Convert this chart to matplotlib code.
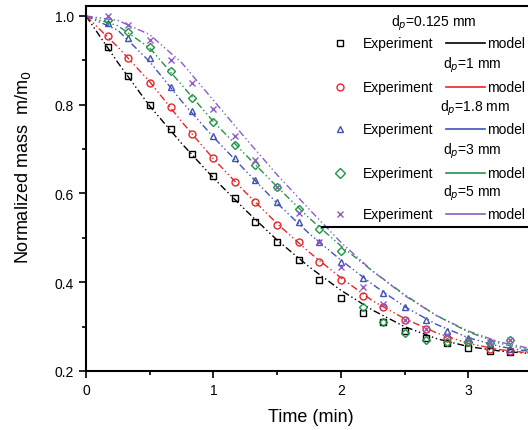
import matplotlib as mpl
mpl.use('Agg')
import matplotlib.pyplot as plt
from matplotlib.ticker import MultipleLocator

plt.rcParams['font.family'] = ['Liberation Sans', 'DejaVu Sans']

# model curves (min, m/m0)
t_model = [0, 0.25, 0.5, 0.75, 1.0, 1.25, 1.5, 1.75, 2.0, 2.25, 2.5, 2.75, 3.0, 3.25, 3.5]
model_0125 = [1.0, 0.895, 0.797, 0.713, 0.635, 0.563, 0.495, 0.435, 0.382, 0.337, 0.300, 0.273, 0.255, 0.245, 0.239]
model_1 = [1.0, 0.930, 0.852, 0.762, 0.678, 0.603, 0.532, 0.468, 0.410, 0.358, 0.318, 0.286, 0.262, 0.248, 0.240]
model_18 = [1.0, 0.968, 0.897, 0.808, 0.727, 0.652, 0.578, 0.510, 0.450, 0.395, 0.345, 0.305, 0.275, 0.255, 0.243]
model_3 = [1.0, 0.978, 0.928, 0.845, 0.762, 0.688, 0.615, 0.545, 0.482, 0.425, 0.372, 0.325, 0.288, 0.262, 0.246]
model_5 = [1.0, 0.990, 0.958, 0.895, 0.810, 0.725, 0.642, 0.565, 0.490, 0.425, 0.370, 0.325, 0.290, 0.265, 0.250]

# experiment points
t_exp = [0.17, 0.33, 0.5, 0.67, 0.83, 1.0, 1.17, 1.33, 1.5, 1.67,
         1.83, 2.0, 2.17, 2.33, 2.5, 2.67, 2.83, 3.0, 3.17, 3.33]
exp_0125 = [0.93, 0.865, 0.80, 0.745, 0.69, 0.64, 0.59, 0.535, 0.49, 0.45,
            0.405, 0.365, 0.33, 0.31, 0.29, 0.275, 0.262, 0.252, 0.245, 0.242]
exp_1 = [0.955, 0.905, 0.85, 0.795, 0.735, 0.68, 0.625, 0.58, 0.53, 0.49,
         0.445, 0.405, 0.37, 0.345, 0.315, 0.295, 0.275, 0.265, 0.25, 0.245]
exp_18 = [0.985, 0.95, 0.905, 0.84, 0.785, 0.73, 0.68, 0.63, 0.58, 0.535,
          0.49, 0.445, 0.41, 0.375, 0.345, 0.315, 0.29, 0.275, 0.26, 0.25]
exp_3 = [0.99, 0.965, 0.93, 0.875, 0.815, 0.76, 0.71, 0.665, 0.615, 0.565,
         0.52, 0.47, 0.345, 0.31, 0.285, 0.27, 0.265, 0.265, 0.262, 0.27]
exp_5 = [1.0, 0.98, 0.945, 0.90, 0.85, 0.79, 0.73, 0.675, 0.615, 0.555,
         0.49, 0.435, 0.39, 0.35, 0.315, 0.295, 0.28, 0.27, 0.265, 0.27]

labels = ['d$_p$=0.125 mm', 'd$_p$=1 mm', 'd$_p$=1.8 mm', 'd$_p$=3 mm', 'd$_p$=5 mm']
colors = ['black', '#e8252a', '#4152b8', '#239447', '#8d5cc6']
markers = ['s', 'o', '^', 'D', 'x']
models = [model_0125, model_1, model_18, model_3, model_5]
exps = [exp_0125, exp_1, exp_18, exp_3, exp_5]

dashdotdot = (0, (5, 2, 1, 2, 1, 2))

fig = plt.figure(figsize=(5.28, 4.31), dpi=100)
ax = fig.add_axes([86 / 528, 59 / 431, 446 / 528, 365 / 431])

for m, e, c, mk in zip(models, exps, colors, markers):
    ax.plot(t_model, m, color=c, lw=1.0, ls=dashdotdot)
    if mk == 'x':
        ax.plot(t_exp, e, ls='none', marker=mk, ms=5, mec=c, mew=1.0)
    else:
        ax.plot(t_exp, e, ls='none', marker=mk, ms=5 if mk != 'D' else 4,
                mfc='none', mec=c, mew=1.0)

ax.set_xlim(0, 3.5)
ax.set_ylim(0.2, 1.0225)
ax.xaxis.set_major_locator(MultipleLocator(1))
ax.xaxis.set_minor_locator(MultipleLocator(0.5))
ax.yaxis.set_major_locator(MultipleLocator(0.2))
ax.yaxis.set_minor_locator(MultipleLocator(0.1))
ax.set_yticks([0.2, 0.4, 0.6, 0.8, 1.0])
ax.set_yticklabels(['0.2', '0.4', '0.6', '0.8', '1.0'])
ax.tick_params(which='major', direction='out', length=5, width=1.2, labelsize=10,
               top=False, right=False)
ax.tick_params(which='minor', direction='out', length=3, width=1.2,
               top=False, right=False)
for s in ax.spines.values():
    s.set_linewidth(1.5)

ax.set_xlabel('Time (min)', fontsize=13, va='center')
ax.set_ylabel('Normalized mass  m/m$_0$', fontsize=13, va='center')
ax.xaxis.set_label_coords(0.504, -0.126)
ax.yaxis.set_label_coords(-0.141, 0.562)


# legend drawn by hand
def fx(px):
    return (px - 86) / 446


def fy(py):
    return (372 - py) / 365


tr = ax.transAxes
title_x = [434, 472, 475, 472, 472]
row_y = [44, 88, 130, 174, 215]
title_y = [23, 65, 108, 151, 193]
for i in range(5):
    ax.text(fx(title_x[i]), fy(title_y[i]), labels[i], transform=tr, fontsize=10,
            ha='center', va='center')
    mk = markers[i]
    ax.plot([fx(340)], [fy(row_y[i])], transform=tr, ls='none', marker=mk,
            ms=5, mfc='none', mec=colors[i], mew=1.0, clip_on=False)
    ax.text(fx(363), fy(row_y[i]), 'Experiment', transform=tr, fontsize=10,
            ha='left', va='center')
    ax.plot([fx(446), fx(485)], [fy(row_y[i])] * 2, transform=tr,
            color=colors[i], lw=1.2, clip_on=False)
    ax.text(fx(487), fy(row_y[i]), 'model', transform=tr, fontsize=10,
            ha='left', va='center')
ax.plot([fx(322), fx(540)], [fy(228)] * 2, transform=tr, color='black', lw=1.5,
        clip_on=False)

fig.savefig('out.png', dpi=100)
